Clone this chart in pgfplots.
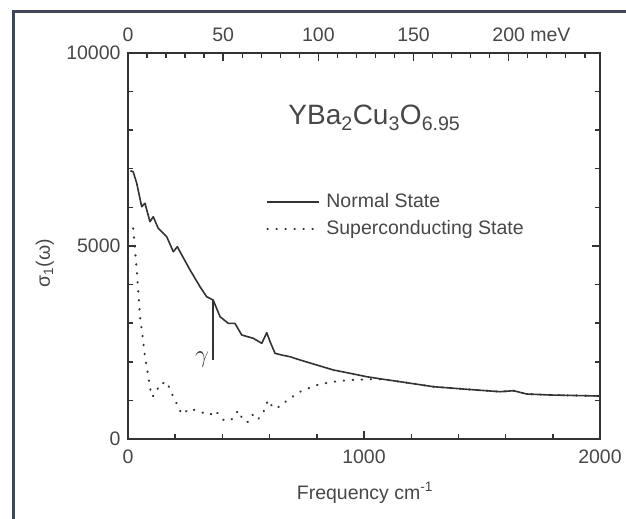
\documentclass[border=0pt]{standalone}
\usepackage{pgfplots}
\pgfplotsset{compat=1.18}
\usepackage{pgfplotstable}
\usepackage{fontspec}
\setmainfont{Liberation Sans}
\definecolor{ink}{HTML}{333333}
\definecolor{txt}{HTML}{474747}
\definecolor{framec}{HTML}{3E4859}

\pgfplotstableread{
w s
10 6950
22 6925
37 6625
58 6018
72 6106
93 5630
107 5759
128 5459
164 5241
192 4852
209 4982
228 4767
263 4378
305 3946
333 3687
361 3601
390 3168
425 2997
453 2997
482 2694
531 2609
567 2479
588 2754
602 2521
623 2220
651 2176
686 2132
729 2047
800 1917
870 1788
941 1702
1011 1614
1082 1547
1153 1484
1294 1355
1435 1288
1576 1225
1633 1251
1689 1166
1788 1140
1996 1114
}\normalstate

\pgfplotstableread{
w s
22 5459
30 4896
37 4378
44 3775
51 3168
62 2650
72 2132
86 1614
100 1096
114 1140
136 1443
150 1450
164 1484
185 1184
213 837
228 640
263 790
305 705
347 620
369 740
404 500
430 470
446 540
467 740
489 470
510 440
531 650
552 520
572 670
594 1010
616 795
644 840
672 990
708 1140
729 1225
800 1399
870 1484
941 1528
1025 1547
1082 1547
1153 1484
1294 1355
1435 1288
1576 1225
1633 1251
1689 1166
1788 1140
1996 1114
}\superstate

\newcommand\tfont{\fontsize{19.5bp}{22bp}\selectfont}

\begin{document}
\begin{tikzpicture}
\begin{axis}[
  at={(0,0)}, anchor=south west,
  scale only axis, width=472bp, height=386bp,
  xmin=0, xmax=2000, ymin=0, ymax=10000,
  scaled y ticks=false, scaled x ticks=false,
  axis line style={ink, line width=2bp},
  xtick={0,1000,2000}, xticklabels={0,1000,2000},
  minor xtick={200,400,600,800,1200,1400,1600,1800},
  ytick={0,5000,10000}, yticklabels={0,5000,10000},
  minor ytick={1000,2000,3000,4000,6000,7000,8000,9000},
  xtick pos=left, ytick pos=both, yticklabel pos=left,
  tick align=inside,
  major tick length=8bp, minor tick length=5bp,
  every tick/.style={ink, line width=1.4bp},
  tick label style={font=\tfont, text=txt},
  xticklabel style={yshift=-7bp},
  yticklabel style={xshift=-4bp},
  xlabel={Frequency cm\textsuperscript{-1}},
  ylabel={σ\textsubscript{1}(ω)},
  label style={font=\tfont, text=txt},
  xlabel style={at={(axis description cs:0.502,-0.14)}, anchor=center},
  ylabel style={at={(axis description cs:-0.176,0.456)}, anchor=center},
  legend style={at={(axis cs:585,6373)}, anchor=north west, draw=none, fill=none,
    font=\tfont, text=txt, inner sep=0pt, row sep=9bp, column sep=6bp,
    nodes={inner sep=0pt, text height=14bp, text depth=4bp}},
  legend cell align=left,
  legend image code/.code={\draw[#1] (0bp,0bp) -- (52bp,0bp);},
]
\addplot[ink, line width=1.6bp, line join=round] table[x=w, y=s] {\normalstate};
\addlegendentry{Normal State}
\addplot[ink, line width=2.1bp, line cap=round, dash pattern=on 0.5bp off 8.5bp] table[x=w, y=s] {\superstate};
\addlegendentry{Superconducting State}
\addplot[ink, line width=1.1bp, forget plot] coordinates {(360,3600) (360,2047)};
\node[text=ink, font=\fontsize{24bp}{26bp}\selectfont] at (axis cs:314,2047) {$\gamma$};
\node[anchor=base west, text=txt, font=\fontsize{28bp}{32bp}\selectfont] at (axis cs:665,8135)
  {YBa\textsubscript{2}Cu\textsubscript{3}O\textsubscript{6.95}};
\end{axis}
\begin{axis}[
  at={(0,0)}, anchor=south west,
  scale only axis, width=472bp, height=386bp,
  xmin=0, xmax=247.97, ymin=0, ymax=1,
  hide y axis,
  axis line style={ink, line width=2bp},
  xtick pos=right, xticklabel pos=right,
  xtick={0,50,100,150,200}, xticklabels={0,50,100,150,200\rlap{ meV}},
  minor xtick={10,20,30,40,60,70,80,90,110,120,130,140,160,170,180,190,210,220,230,240},
  tick align=inside,
  major tick length=8bp, minor tick length=5bp,
  every tick/.style={ink, line width=1.4bp},
  tick label style={font=\tfont, text=txt},
  xticklabel style={yshift=8bp},
]
\addplot[draw=none] coordinates {(0,0)};
\end{axis}
\draw[framec, line width=3bp] (-114bp,-80bp) -- (-114bp,427bp) -- (498bp,427bp);
\pgfresetboundingbox
\useasboundingbox (-128bp,-80bp) rectangle (498bp,439bp);
\end{tikzpicture}
\end{document}
